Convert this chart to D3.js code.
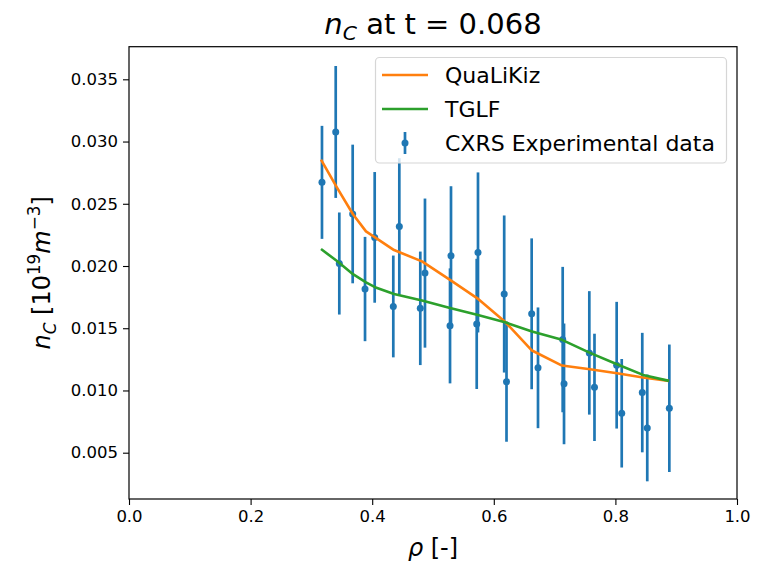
<!DOCTYPE html>
<html>
<head>
<meta charset="utf-8">
<script src="https://cdnjs.cloudflare.com/ajax/libs/d3/7.8.5/d3.min.js"></script>
<style>
  body { margin: 0; background: #fff; }
  text { font-family: "DejaVu Sans", sans-serif; fill: #000; }
</style>
</head>
<body>
<svg id="chart" width="758" height="562"></svg>
<script>
// CXRS measured points
var rho = [0.3174, 0.3400, 0.3459, 0.3679, 0.3882, 0.4041, 0.4347, 0.4446, 0.4791, 0.4868,
           0.5296, 0.5280, 0.5740, 0.5719, 0.6171, 0.6209, 0.6623, 0.6727, 0.7133, 0.7155,
           0.7571, 0.7656, 0.8021, 0.8104, 0.8442, 0.8524, 0.8887];
var nC = [0.02672, 0.03077, 0.02020, 0.02418, 0.01815, 0.02230, 0.01675, 0.02318, 0.01660, 0.01943,
          0.02082, 0.01519, 0.02109, 0.01535, 0.01775, 0.01071, 0.01616, 0.01182, 0.01409, 0.01053,
          0.01302, 0.01025, 0.01203, 0.00817, 0.00983, 0.00699, 0.00857];
var nCErr = [0.00454, 0.00530, 0.00410, 0.00557, 0.00419, 0.00525, 0.00409, 0.00548, 0.00456, 0.00599,
             0.00559, 0.00462, 0.00643, 0.00523, 0.00631, 0.00483, 0.00606, 0.00485, 0.00584, 0.00485,
             0.00496, 0.00431, 0.00509, 0.00436, 0.00480, 0.00429, 0.00512];

// model profiles
var modelRho = [0.3158, 0.3421, 0.3684, 0.3898, 0.4046, 0.4359, 0.4819, 0.5280,
                0.5724, 0.6184, 0.6628, 0.7122, 0.7582, 0.8026, 0.8454, 0.8882];
var qualikiz = [0.02855, 0.02630, 0.02416, 0.02278, 0.02230, 0.02128, 0.02037, 0.01889,
                0.01742, 0.01552, 0.01321, 0.01200, 0.01171, 0.01139, 0.01104, 0.01077];
var tglf = [0.02136, 0.02040, 0.01934, 0.01868, 0.01830, 0.01775, 0.01722, 0.01662,
            0.01608, 0.01548, 0.01473, 0.01407, 0.01302, 0.01211, 0.01125, 0.01077];

var xTicks = [0, 0.2, 0.4, 0.6, 0.8, 1.0];
var yTicks = [0.005, 0.010, 0.015, 0.020, 0.025, 0.030, 0.035];

var blue = "#1f77b4", orange = "#ff7f0e", green = "#2ca02c";

var svg = d3.select("#chart");
var L = 129, R = 737, T = 46.7, B = 499;

var x = d3.scaleLinear().domain([0, 1]).range([L, R]);
var y = d3.scaleLinear().domain([0.00128, 0.03762]).range([B, T]);

// axes
var xAxis = svg.append("g")
    .attr("transform", "translate(0," + B + ")")
    .call(d3.axisBottom(x).tickValues(xTicks).tickFormat(d3.format(".1f")).tickSize(6).tickPadding(5));
var yAxis = svg.append("g")
    .attr("transform", "translate(" + L + ",0)")
    .call(d3.axisLeft(y).tickValues(yTicks).tickFormat(d3.format(".3f")).tickSize(6).tickPadding(5));

[xAxis, yAxis].forEach(function(a) {
  a.select(".domain").remove();
  a.selectAll(".tick line").attr("stroke", "#000").attr("stroke-width", 1.1);
  a.selectAll(".tick text").style("font-size", "16.5px").attr("fill", "#000");
});

// error bars
var pts = svg.append("g");
pts.selectAll("line.err")
    .data(rho)
  .enter().append("line")
    .attr("class", "err")
    .attr("x1", function(d) { return x(d); })
    .attr("x2", function(d) { return x(d); })
    .attr("y1", function(d, i) { return y(nC[i] - nCErr[i]); })
    .attr("y2", function(d, i) { return y(nC[i] + nCErr[i]); })
    .attr("stroke", blue)
    .attr("stroke-width", 2.7);
pts.selectAll("circle")
    .data(rho)
  .enter().append("circle")
    .attr("cx", function(d) { return x(d); })
    .attr("cy", function(d, i) { return y(nC[i]); })
    .attr("r", 3.5)
    .attr("fill", blue);

// model lines
var line = d3.line()
    .x(function(d) { return x(d[0]); })
    .y(function(d) { return y(d[1]); });

svg.append("path")
    .datum(d3.zip(modelRho, qualikiz))
    .attr("d", line)
    .attr("fill", "none")
    .attr("stroke", orange)
    .attr("stroke-width", 2.6)
    .attr("stroke-linejoin", "round");

svg.append("path")
    .datum(d3.zip(modelRho, tglf))
    .attr("d", line)
    .attr("fill", "none")
    .attr("stroke", green)
    .attr("stroke-width", 2.6)
    .attr("stroke-linejoin", "round");

// frame
svg.append("rect")
    .attr("x", L).attr("y", T)
    .attr("width", R - L).attr("height", B - T)
    .attr("fill", "none")
    .attr("stroke", "#000")
    .attr("stroke-width", 1.2);

// legend
var leg = svg.append("g");
leg.append("rect")
    .attr("x", 375.5).attr("y", 57.5)
    .attr("width", 351).attr("height", 105.5)
    .attr("rx", 4)
    .attr("fill", "rgba(255,255,255,0.8)")
    .attr("stroke", "#d6d6d6")
    .attr("stroke-width", 1.2);

var legItems = [
  { name: "QuaLiKiz", color: orange, kind: "line" },
  { name: "TGLF", color: green, kind: "line" },
  { name: "CXRS Experimental data", color: blue, kind: "err" }
];
legItems.forEach(function(it, i) {
  var cy = 75 + i * 34;
  if (it.kind == "line") {
    leg.append("line")
      .attr("x1", 382).attr("x2", 428)
      .attr("y1", cy).attr("y2", cy)
      .attr("stroke", it.color).attr("stroke-width", 2.6);
  } else {
    leg.append("line")
      .attr("x1", 405).attr("x2", 405)
      .attr("y1", cy - 11).attr("y2", cy + 11)
      .attr("stroke", it.color).attr("stroke-width", 2.7);
    leg.append("circle")
      .attr("cx", 405).attr("cy", cy).attr("r", 3.5)
      .attr("fill", it.color);
  }
  leg.append("text")
    .attr("x", 445).attr("y", cy + 8)
    .style("font-size", "22px")
    .text(it.name);
});

// mathtext-ish helper
function mtext(sel, parts) {
  var base = 0;
  parts.forEach(function(p) {
    var t = sel.append("tspan").text(p.t);
    var off = p.sub ? 6 : (p.sup ? -10 : 0);
    if (off != base) { t.attr("dy", off - base); base = off; }
    if (p.it) t.style("font-style", "italic");
    if (p.sub || p.sup) t.style("font-size", "70%");
  });
}

// title
var title = svg.append("text")
    .attr("x", (L + R) / 2).attr("y", 34)
    .attr("text-anchor", "middle")
    .style("font-size", "29px");
mtext(title, [{t: "n", it: true}, {t: "C", it: true, sub: true}, {t: " at t = 0.068"}]);

// x label
var xl = svg.append("text")
    .attr("x", (L + R) / 2).attr("y", 556)
    .attr("text-anchor", "middle")
    .style("font-size", "24px");
mtext(xl, [{t: "\u03c1", it: true}, {t: " [-]"}]);

// y label
var yl = svg.append("text")
    .attr("transform", "translate(50," + ((T + B) / 2) + ") rotate(-90)")
    .attr("text-anchor", "middle")
    .style("font-size", "24px");
mtext(yl, [{t: "n", it: true}, {t: "C", it: true, sub: true}, {t: " [10"}, {t: "19", sup: true},
           {t: "m", it: true}, {t: "\u22123", sup: true}, {t: "]"}]);
</script>
</body>
</html>
